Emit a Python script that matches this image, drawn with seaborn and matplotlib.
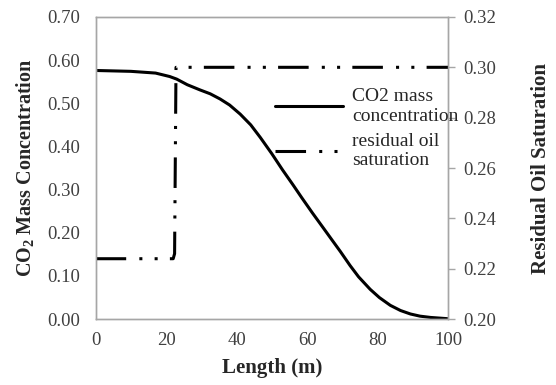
import numpy as np
import pandas as pd
import seaborn as sns
import matplotlib.pyplot as plt

# CO2 mass concentration along the core
length_co2 = [0, 10, 17, 21, 23, 26, 29.6, 32.5, 35.3, 38, 41, 44, 46.7, 50,
              53, 56, 58.5, 61.5, 64.7, 67, 69.4, 72.2, 74.6, 77.9, 80.5,
              83.6, 86.5, 89.3, 92, 95, 100]
co2_conc = [0.576, 0.574, 0.570, 0.562, 0.556, 0.543, 0.531, 0.522, 0.510,
            0.496, 0.475, 0.450, 0.421, 0.383, 0.346, 0.311, 0.281, 0.246,
            0.210, 0.184, 0.157, 0.124, 0.098, 0.069, 0.050, 0.032, 0.020,
            0.012, 0.007, 0.004, 0.001]

# residual oil saturation (right axis)
length_sor = [0, 22.0, 22.4, 22.8, 100]
sor = [0.224, 0.224, 0.226, 0.300, 0.300]

x_ticks = [0, 20, 40, 60, 80, 100]
y1_ticks = [0.0, 0.1, 0.2, 0.3, 0.4, 0.5, 0.6, 0.7]
y2_ticks = [0.20, 0.22, 0.24, 0.26, 0.28, 0.30, 0.32]

sns.set_style("white")
plt.rcParams['font.family'] = ['Liberation Serif', 'DejaVu Serif']
plt.rcParams['mathtext.fontset'] = 'custom'
plt.rcParams['mathtext.rm'] = 'Liberation Serif:bold'
plt.rcParams['mathtext.default'] = 'rm'

fs = 13.5
spine_col = '#a6a6a6'
txt_col = '#404040'

fig = plt.figure(figsize=(5.56, 3.85), dpi=100)
ax = fig.add_axes([0.172, 0.171, 0.634, 0.785])
ax2 = ax.twinx()

df1 = pd.DataFrame({'length': length_co2, 'co2': co2_conc})
df2 = pd.DataFrame({'length': length_sor, 'sor': sor})

sns.lineplot(data=df1, x='length', y='co2', ax=ax, color='black', lw=2.2,
             label='CO2 mass\nconcentration', legend=False)
sns.lineplot(data=df2, x='length', y='sor', ax=ax2, color='black', lw=2.2,
             linestyle=(0, (10, 4.3, 1, 4.0, 1, 4.0)),
             label='residual oil\nsaturation', legend=False, sort=False)

ax.set_xlim(0, 100)
ax.set_ylim(0, 0.7)
ax2.set_ylim(0.2, 0.32)
ax.set_xticks(x_ticks)
ax.set_yticks(y1_ticks)
ax2.set_yticks(y2_ticks)
ax.set_yticklabels(['%.2f' % v for v in y1_ticks], fontsize=fs)
ax2.set_yticklabels(['%.2f' % v for v in y2_ticks], fontsize=fs)
ax.set_xticklabels([str(v) for v in x_ticks], fontsize=fs)

ax.tick_params(axis='y', length=0, pad=11, colors=txt_col)
ax.tick_params(axis='x', length=0, pad=9, colors=txt_col)
ax2.tick_params(axis='y', length=5, width=1, color=spine_col,
                labelcolor=txt_col, pad=6, direction='out')

for a in (ax, ax2):
    for s in a.spines.values():
        s.set_color(spine_col)
        s.set_linewidth(1.0)

ax.set_xlabel('Length (m)', fontsize=15, fontweight='bold', labelpad=7)
ax.set_ylabel(r'CO$_2$ Mass Concentration', fontsize=14.5, fontweight='bold',
              labelpad=8)
ax2.set_ylabel('Residual Oil Saturation', fontsize=15, fontweight='bold',
               labelpad=25, rotation=90)

h1, l1 = ax.get_legend_handles_labels()
h2, l2 = ax2.get_legend_handles_labels()
ax2.legend(h1 + h2, l1 + l2, loc='upper left', bbox_to_anchor=(0.487, 0.79),
           frameon=False, fontsize=14, handlelength=3.5, handletextpad=0.46,
           labelspacing=0.4, borderaxespad=0)

fig.savefig('out.png', dpi=100)
